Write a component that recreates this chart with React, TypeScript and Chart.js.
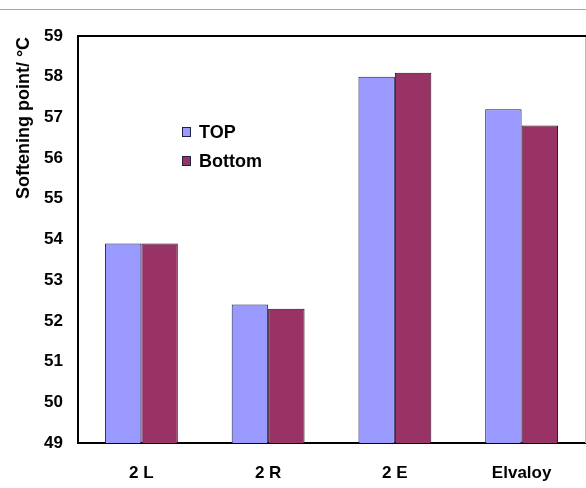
import React, { useEffect, useRef } from "react";
import { Chart, registerables } from "chart.js";

Chart.register(...registerables);

const categories = ["2 L", "2 R", "2 E", "Elvaloy"];
const topValues = [53.9, 52.4, 58.0, 57.2];
const bottomValues = [53.9, 52.3, 58.1, 56.8];
const seriesLabels = ["TOP", "Bottom"];
const yTitle = "Softening point/ °C";
const yMin = 49;
const yMax = 59;

const FONT = "Arial, 'Liberation Sans', sans-serif";

const framePlugin = {
  id: "frame",
  afterDraw(chart: any) {
    const { ctx, chartArea } = chart;
    const { left, top, right, bottom } = chartArea;
    ctx.save();
    // top thin gray line
    ctx.strokeStyle = "#a8a8a8";
    ctx.lineWidth = 1;
    ctx.beginPath();
    ctx.moveTo(0, 9.5);
    ctx.lineTo(chart.width, 9.5);
    ctx.stroke();
    // right gray line
    ctx.strokeStyle = "#bbbbbb";
    ctx.beginPath();
    ctx.moveTo(right + 0.5, top);
    ctx.lineTo(right + 0.5, bottom);
    ctx.stroke();
    // frame top
    ctx.strokeStyle = "#000";
    ctx.lineWidth = 2;
    ctx.beginPath();
    ctx.moveTo(left, top);
    ctx.lineTo(right + 1, top);
    ctx.stroke();
    // y title
    ctx.fillStyle = "#000";
    ctx.font = `bold 18px ${FONT}`;
    ctx.textAlign = "center";
    ctx.textBaseline = "middle";
    ctx.translate(24, 118);
    ctx.rotate(-Math.PI / 2);
    ctx.fillText(yTitle, 0, 0);
    ctx.restore();

    // legend
    ctx.save();
    ctx.font = `bold 18px ${FONT}`;
    ctx.textAlign = "left";
    ctx.textBaseline = "middle";
    chart.data.datasets.forEach((ds: any, i: number) => {
      const cy = 132 + i * 29;
      ctx.fillStyle = ds.backgroundColor;
      ctx.fillRect(182, cy - 5, 9, 10);
      ctx.strokeStyle = "#222244";
      ctx.lineWidth = 1;
      ctx.strokeRect(182.5, cy - 4.5, 8, 9);
      ctx.fillStyle = "#000";
      ctx.fillText(ds.label, 199, cy + 1);
    });
    ctx.restore();
  },
};

export default function App() {
  const ref = useRef<HTMLCanvasElement | null>(null);
  useEffect(() => {
    document.body.style.margin = "0";
    const canvas = ref.current;
    if (!canvas) return;
    const chart = new Chart(canvas, {
      type: "bar",
      data: {
        labels: categories,
        datasets: [
          {
            label: seriesLabels[0],
            data: topValues,
            backgroundColor: "#9999ff",
            borderColor: "#1c1c50",
            borderWidth: 1,
            categoryPercentage: 0.575,
            barPercentage: 1.0,
          },
          {
            label: seriesLabels[1],
            data: bottomValues,
            backgroundColor: "#993366",
            borderColor: "#2a0a1a",
            borderWidth: 1,
            categoryPercentage: 0.575,
            barPercentage: 1.0,
          },
        ],
      },
      options: {
        responsive: false,
        animation: false,
        devicePixelRatio: 1,
        layout: { padding: { top: 36, right: 1, left: 0, bottom: 0 } },
        plugins: {
          legend: { display: false },
          tooltip: { enabled: false },
        },
        scales: {
          x: {
            grid: { display: false, drawTicks: false },
            border: { display: true, color: "#000", width: 2 },
            ticks: {
              color: "#000",
              font: { family: FONT, size: 17, weight: "bold" },
              padding: 20,
            },
            afterFit: (s: any) => {
              s.height = 45;
            },
          },
          y: {
            min: yMin,
            max: yMax,
            grid: { display: false, drawTicks: false },
            border: { display: true, color: "#000", width: 2 },
            ticks: {
              stepSize: 1,
              color: "#000",
              font: { family: FONT, size: 17, weight: "bold" },
              padding: 15,
            },
            afterFit: (s: any) => {
              s.width = 78;
            },
          },
        },
      },
      plugins: [framePlugin],
    });
    return () => chart.destroy();
  }, []);
  return <canvas ref={ref} width={586} height={488} style={{ display: "block" }} />;
}
